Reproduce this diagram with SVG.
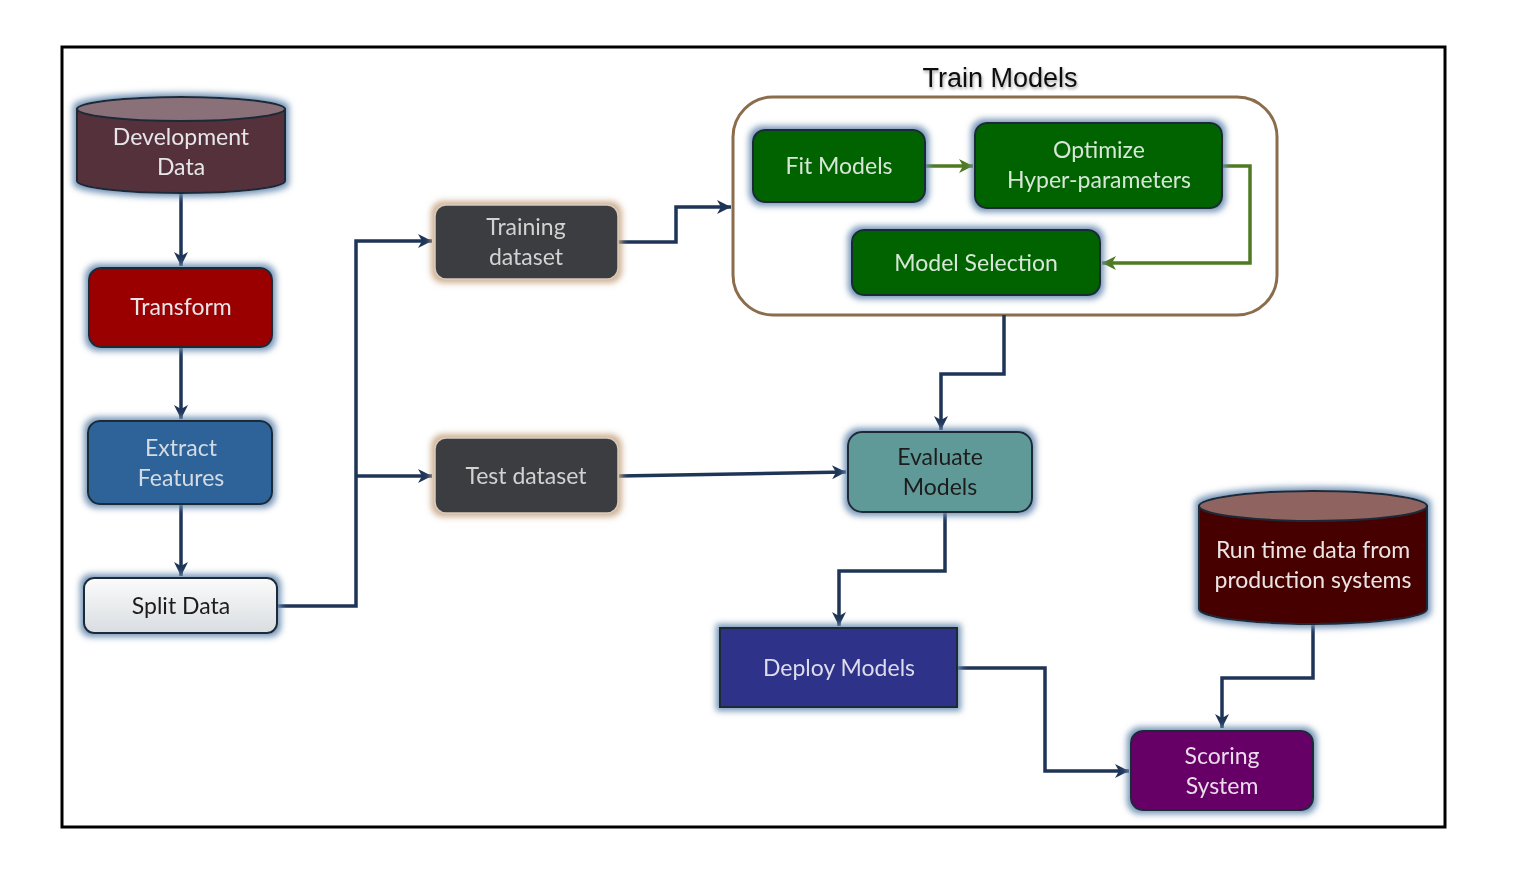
<svg xmlns="http://www.w3.org/2000/svg" width="1520" height="874" viewBox="0 0 1520 874">
<style>
.t{font-family:Lato,"Open Sans","Liberation Sans",sans-serif;font-size:23px;text-anchor:middle}
.lt{fill:#e6e6ea}
.dk{fill:#1c1c1c}
.node{stroke:#1e2a38;stroke-width:2}
.conn{fill:none;stroke:#1f3558;stroke-width:3.5}
.gconn{fill:none;stroke:#4d7a22;stroke-width:3.5}
</style>
<defs>
<filter id="glow" x="-20%" y="-30%" width="140%" height="160%">
<feMorphology in="SourceAlpha" operator="dilate" radius="2.5" result="d"/>
<feGaussianBlur in="d" stdDeviation="3" result="b"/>
<feFlood flood-color="#6d8fb3" flood-opacity="0.95"/>
<feComposite in2="b" operator="in" result="g"/>
<feMerge><feMergeNode in="g"/><feMergeNode in="SourceGraphic"/></feMerge>
</filter>
<filter id="tan" x="-20%" y="-30%" width="140%" height="160%">
<feMorphology in="SourceAlpha" operator="dilate" radius="2.5" result="d"/>
<feGaussianBlur in="d" stdDeviation="3" result="b"/>
<feFlood flood-color="#c9a887" flood-opacity="0.95"/>
<feComposite in2="b" operator="in" result="g"/>
<feMerge><feMergeNode in="g"/><feMergeNode in="SourceGraphic"/></feMerge>
</filter>
<filter id="tshadow" x="-10%" y="-30%" width="120%" height="160%">
<feGaussianBlur in="SourceAlpha" stdDeviation="1.5" result="b"/>
<feOffset in="b" dx="1" dy="2" result="o"/>
<feFlood flood-color="#000" flood-opacity="0.35"/>
<feComposite in2="o" operator="in" result="s"/>
<feMerge><feMergeNode in="s"/><feMergeNode in="SourceGraphic"/></feMerge>
</filter>
<linearGradient id="splitg" x1="0" y1="0" x2="0" y2="1">
<stop offset="0" stop-color="#fbfbfb"/><stop offset="1" stop-color="#d9dde1"/>
</linearGradient>
<marker id="arr" markerUnits="userSpaceOnUse" markerWidth="16" markerHeight="16" viewBox="0 0 16 16" refX="15" refY="8" orient="auto">
<path d="M1,1 L15,8 L1,15 L5,8 Z" fill="#1f3558"/>
</marker>
<marker id="garr" markerUnits="userSpaceOnUse" markerWidth="16" markerHeight="16" viewBox="0 0 16 16" refX="15" refY="8" orient="auto">
<path d="M1,1 L15,8 L1,15 L5,8 Z" fill="#4d7a22"/>
</marker>
</defs>
<rect width="1520" height="874" fill="#ffffff"/>
<rect x="62" y="47" width="1383" height="780" fill="#ffffff" stroke="#000" stroke-width="3"/>

<g id="train-models">
<rect x="733" y="97" width="544" height="218" rx="40" fill="#ffffff" stroke="#8b6d4c" stroke-width="3"/>
<text x="1000" y="87" font-family="'Liberation Sans',Arial,sans-serif" font-size="27" text-anchor="middle" fill="#111" filter="url(#tshadow)">Train Models</text>
</g>

<g id="connectors">
<path class="conn" d="M181,193 L181,266" marker-end="url(#arr)"/>
<path class="conn" d="M181,347 L181,419" marker-end="url(#arr)"/>
<path class="conn" d="M181,504 L181,576" marker-end="url(#arr)"/>
<path class="conn" d="M277,606 L356,606 L356,241 L432,241" marker-end="url(#arr)"/>
<path class="conn" d="M356,476 L432,476" marker-end="url(#arr)"/>
<path class="conn" d="M618,242 L676,242 L676,207 L731,207" marker-end="url(#arr)"/>
<path class="conn" d="M619,476 L846,472" marker-end="url(#arr)"/>
<path class="conn" d="M1004,315 L1004,374 L941,374 L941,430" marker-end="url(#arr)"/>
<path class="conn" d="M945,512 L945,571 L839,571 L839,626" marker-end="url(#arr)"/>
<path class="conn" d="M957,668 L1045,668 L1045,771 L1129,771" marker-end="url(#arr)"/>
<path class="conn" d="M1313,624 L1313,678 L1222,678 L1222,728" marker-end="url(#arr)"/>
<path class="gconn" d="M925,166 L973,166" marker-end="url(#garr)"/>
<path class="gconn" d="M1222,166 L1250,166 L1250,263 L1102,263" marker-end="url(#garr)"/>
</g>

<g id="development-data" filter="url(#glow)">
<path d="M77,109 L77,181 A104,12 0 0 0 285,181 L285,109 Z" fill="#55333b" stroke="#1e2a38" stroke-width="2"/>
<ellipse cx="181" cy="109" rx="104" ry="12" fill="#8a7078" stroke="#1e2a38" stroke-width="2"/>
<text class="t lt" x="181" y="145">Development</text>
<text class="t lt" x="181" y="175">Data</text>
</g>

<g id="transform" filter="url(#glow)">
<rect class="node" x="89" y="268" width="183" height="79" rx="12" fill="#9a0000"/>
<text class="t lt" x="181" y="315">Transform</text>
</g>

<g id="extract-features" filter="url(#glow)">
<rect class="node" x="88" y="421" width="184" height="83" rx="12" fill="#2e6499"/>
<text class="t" x="181" y="456" fill="#d4dbe4">Extract</text>
<text class="t" x="181" y="486" fill="#d4dbe4">Features</text>
</g>

<g id="split-data" filter="url(#glow)">
<rect class="node" x="84" y="578" width="193" height="55" rx="10" fill="url(#splitg)"/>
<text class="t dk" x="181" y="614">Split Data</text>
</g>

<g id="training-dataset" filter="url(#tan)">
<rect x="435" y="205" width="183" height="74" rx="11" fill="#3a3e41" stroke="#d8cbbd" stroke-width="1.5"/>
<text class="t" x="526" y="235" fill="#d2d2d2">Training</text>
<text class="t" x="526" y="265" fill="#d2d2d2">dataset</text>
</g>

<g id="test-dataset" filter="url(#tan)">
<rect x="435" y="438" width="183" height="75" rx="11" fill="#3a3e41" stroke="#d8cbbd" stroke-width="1.5"/>
<text class="t" x="526" y="484" fill="#d2d2d2">Test dataset</text>
</g>

<g id="fit-models" filter="url(#glow)">
<rect class="node" x="753" y="130" width="172" height="72" rx="12" fill="#006400"/>
<text class="t" x="839" y="174" fill="#d8e6d8">Fit Models</text>
</g>

<g id="optimize" filter="url(#glow)">
<rect class="node" x="975" y="123" width="247" height="85" rx="12" fill="#006400"/>
<text class="t" x="1099" y="158" fill="#d8e6d8">Optimize</text>
<text class="t" x="1099" y="188" fill="#d8e6d8">Hyper-parameters</text>
</g>

<g id="model-selection" filter="url(#glow)">
<rect class="node" x="852" y="230" width="248" height="65" rx="12" fill="#006400"/>
<text class="t" x="976" y="271" fill="#d8e6d8">Model Selection</text>
</g>

<g id="evaluate-models" filter="url(#glow)">
<rect class="node" x="848" y="432" width="184" height="80" rx="14" fill="#619a98"/>
<text class="t dk" x="940" y="465">Evaluate</text>
<text class="t dk" x="940" y="495">Models</text>
</g>

<g id="deploy-models" filter="url(#glow)">
<rect class="node" x="720" y="628" width="237" height="79" fill="#2e3388"/>
<text class="t" x="839" y="676" fill="#dcdcec">Deploy Models</text>
</g>

<g id="runtime-data" filter="url(#glow)">
<path d="M1199,506 L1199,609 A114,15 0 0 0 1427,609 L1427,506 Z" fill="#470000" stroke="#1e2a38" stroke-width="2"/>
<ellipse cx="1313" cy="506" rx="114" ry="15" fill="#8e6461" stroke="#1e2a38" stroke-width="2"/>
<text class="t" x="1313" y="558" fill="#ece4e4">Run time data from</text>
<text class="t" x="1313" y="588" fill="#ece4e4">production systems</text>
</g>

<g id="scoring-system" filter="url(#glow)">
<rect class="node" x="1131" y="731" width="182" height="79" rx="12" fill="#660066"/>
<text class="t" x="1222" y="764" fill="#eadcea">Scoring</text>
<text class="t" x="1222" y="794" fill="#eadcea">System</text>
</g>
</svg>
